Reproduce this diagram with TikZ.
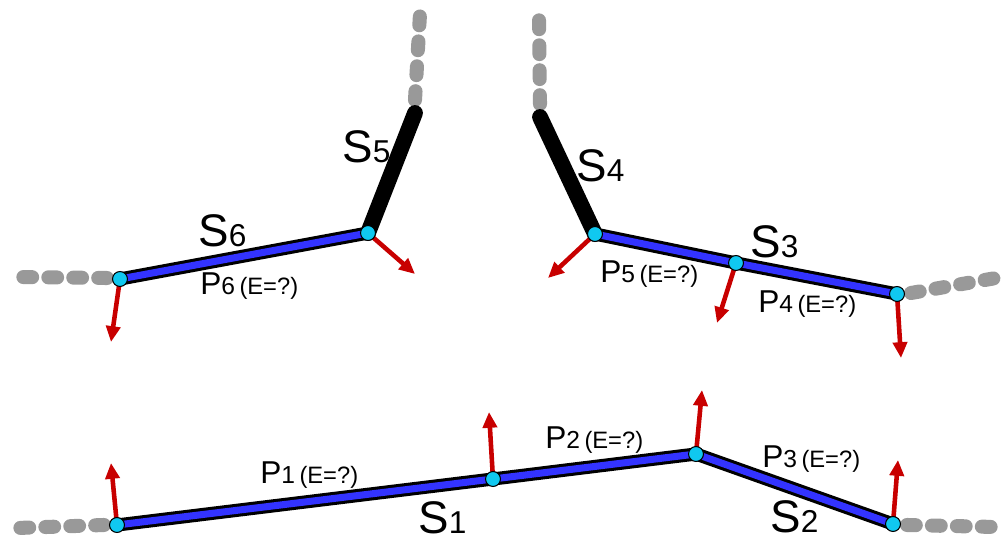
\documentclass[tikz,border=0pt]{standalone}
\usepackage{fontspec}
\setmainfont{Liberation Sans}
\usetikzlibrary{arrows.meta}
\definecolor{segblue}{RGB}{51,51,255}
\definecolor{dotcyan}{RGB}{16,200,240}
\definecolor{arrred}{RGB}{200,0,0}
\definecolor{dashgray}{RGB}{153,153,153}
\newcommand\Slab[1]{{\fontsize{26}{26}\selectfont S}{\fontsize{18}{18}\selectfont #1}}
\newcommand\Plab[1]{{\fontsize{18}{18}\selectfont P}{\fontsize{14}{14}\selectfont #1}\kern2.5pt{\fontsize{13.5}{13.5}\selectfont (E=?)}}
\tikzset{
  outer/.style={line width=7.5pt, black, line join=round},
  inner/.style={line width=4pt, segblue, line join=round},
  thickblack/.style={line width=9pt, black, line cap=round},
  graydash/.style={line width=8pt, dashgray, line cap=round, dash pattern=on 5pt off 9.2pt},
  normal/.style={line width=2.6pt, arrred, -{Triangle[length=9pt,width=8pt]}},
  dotnode/.style={circle, fill=dotcyan, draw=black, line width=0.6pt, minimum size=8.5pt, inner sep=0pt},
  lab/.style={anchor=base west, inner sep=0pt}
}
\begin{document}
\begin{tikzpicture}[x=0.02cm,y=-0.02cm]
\useasboundingbox (0,0) rectangle (1001,540);
% points
\coordinate (A1) at (117,525);
\coordinate (M1) at (493,479);
\coordinate (B1) at (696,454);
\coordinate (C1) at (893,524);
\coordinate (Q6) at (120,279);
\coordinate (Q5) at (368,233);
\coordinate (Q5t) at (415,113);
\coordinate (R5) at (595,234);
\coordinate (RM) at (736,263);
\coordinate (R4) at (897,294);
\coordinate (R5t) at (540,117);
% free ends
\coordinate (dA) at (17,528);
\coordinate (dC) at (996,527);
\coordinate (dQ6) at (17,277);
\coordinate (dQ5) at (420,14);
\coordinate (dR5) at (539,18);
\coordinate (dR4) at (996,278);
\coordinate (tA1) at (111,463);
\coordinate (tM1) at (489,412);
\coordinate (tB1) at (702,390);
\coordinate (tC1) at (898,460);
\coordinate (tQ6) at (111,342);
\coordinate (tQ5) at (415,274);
\coordinate (tR5) at (548,278);
\coordinate (tRM) at (717,323);
\coordinate (tR4) at (901,358);
% gray dashed continuations
\draw[graydash] (A1) ++(-13,0) -- (dA);
\draw[graydash] (C1) ++(14,1) -- (dC);
\draw[graydash] (Q6) ++(-13,-1) -- (dQ6);
\draw[graydash] (Q5t) ++(0,-13) -- (dQ5);
\draw[graydash] (R5t) ++(0,-13) -- (dR5);
\draw[graydash] (R4) ++(14,-1) -- (dR4);
% thick black segments
\draw[thickblack] (Q5) -- (Q5t);
\draw[thickblack] (R5) -- (R5t);
% arrows
\draw[normal] (A1) -- (tA1);
\draw[normal] (M1) -- (tM1);
\draw[normal] (B1) -- (tB1);
\draw[normal] (C1) -- (tC1);
\draw[normal] (Q6) -- (tQ6);
\draw[normal] (Q5) -- (tQ5);
\draw[normal] (R5) -- (tR5);
\draw[normal] (RM) -- (tRM);
\draw[normal] (R4) -- (tR4);
% blue segments
\draw[outer] (A1) -- (M1) -- (B1) -- (C1);
\draw[inner] (A1) -- (M1) -- (B1) -- (C1);
\draw[outer] (Q6) -- (Q5);
\draw[inner] (Q6) -- (Q5);
\draw[outer] (R5) -- (RM) -- (R4);
\draw[inner] (R5) -- (RM) -- (R4);
% dots
\foreach \p in {A1,M1,B1,C1,Q6,Q5,R5,RM,R4}
  \node[dotnode] (dot\p) at (\p) {};
% labels
\node[lab] (s1) at (418,533) {\Slab{1}};
\node[lab] (s2) at (770,532) {\Slab{2}};
\node[lab] (s3) at (750,258) {\Slab{3}};
\node[lab] (s4) at (576,182) {\Slab{4}};
\node[lab] (s5) at (342,163) {\Slab{5}};
\node[lab] (s6) at (198,247) {\Slab{6}};
\node[lab] (p1) at (260,483) {\Plab{1}};
\node[lab] (p2) at (545,449) {\Plab{2}};
\node[lab] (p3) at (762,468) {\Plab{3}};
\node[lab] (p4) at (758,313) {\Plab{4}};
\node[lab] (p5) at (600,283) {\Plab{5}};
\node[lab] (p6) at (200,295) {\Plab{6}};
\end{tikzpicture}
\end{document}
